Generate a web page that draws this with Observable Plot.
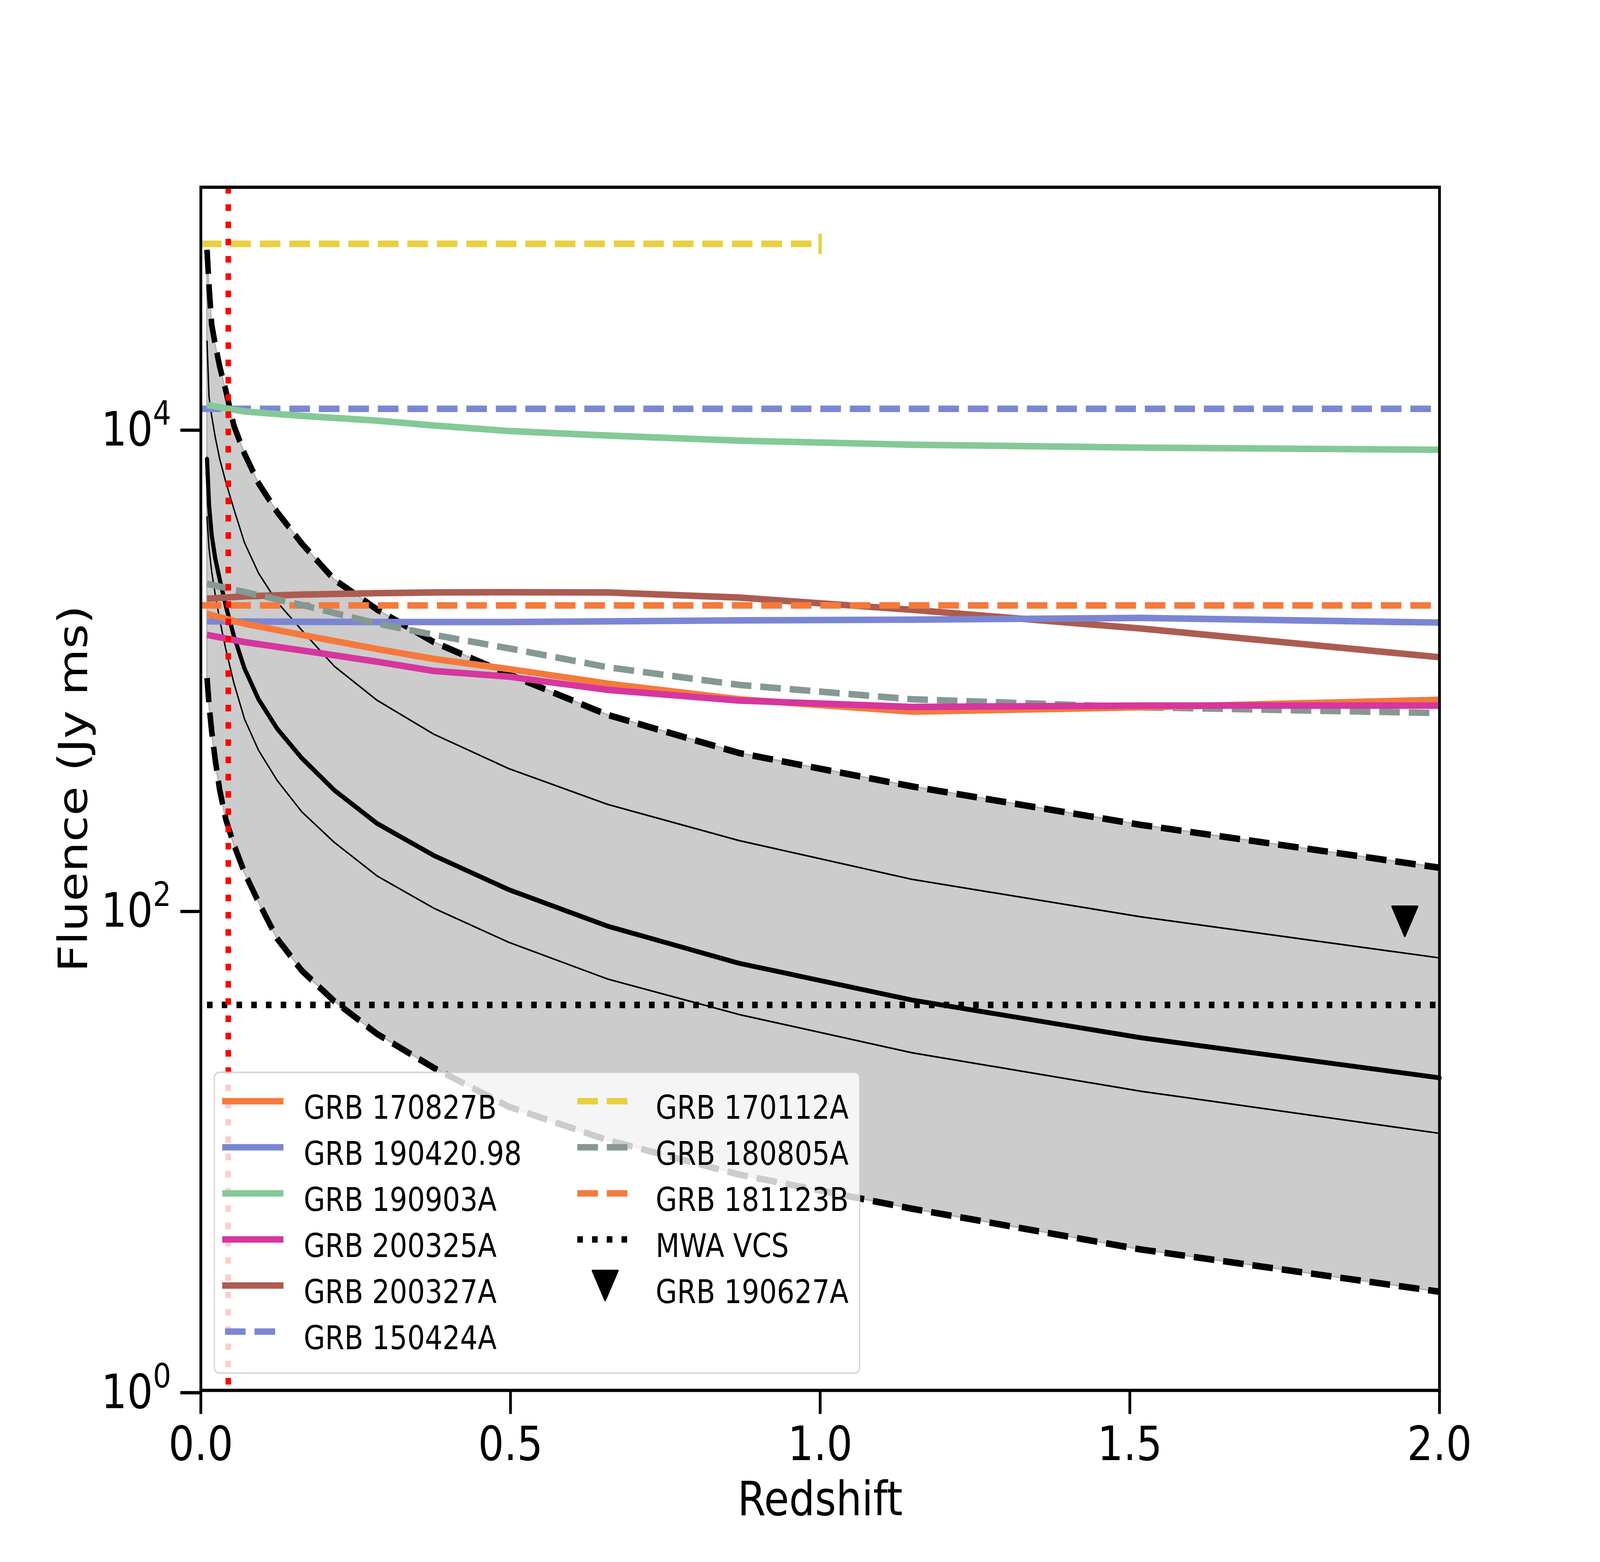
<!DOCTYPE html>
<html>
<head>
<meta charset="utf-8">
<script src="https://cdn.jsdelivr.net/npm/d3@7"></script>
<script src="https://cdn.jsdelivr.net/npm/@observablehq/plot@0.6"></script>
<style>
html, body { margin: 0; padding: 0; background: #ffffff; overflow: hidden; }
#outer { position: relative; width: 4800px; height: 4000px; overflow: hidden; background: #ffffff; }
#wrap { position: absolute; left: 0; top: 0; width: 4800px; height: 4000px; transform-origin: 0 0; }
#wrap svg { position: absolute; left: 0; top: 0; max-width: none !important; }
</style>
</head>
<body>
<div id="outer"><div id="wrap"></div></div>
<script>
// ---------- data ----------
// redshift grid of the model curves
const zModel = [0.01, 0.01322, 0.01747, 0.02309, 0.03052, 0.04035, 0.05333, 0.0705, 0.0932, 0.1232,
                0.1628, 0.2152, 0.2845, 0.3761, 0.4971, 0.6571, 0.8686, 1.148, 1.518, 2.0];
// model fluence (Jy ms): median, inner (thin) and outer (dashed) bounds
const fluenceMedian = [7413, 4786, 3589, 2884, 2344, 1820, 1365, 1000, 744.7, 562.3,
                       424.6, 312.6, 227.0, 167.1, 120.5, 84.9, 59.6, 41.9, 29.2, 19.9];
const fluenceHiInner = [22910, 13490, 11220, 9204, 7413, 5957, 4603, 3334, 2489, 1888,
                        1445, 1023, 737.9, 533.3, 383.7, 272.3, 192.8, 133.0, 92.9, 62.7];
const fluenceLoInner = [4266, 3162, 2529, 2042, 1589, 1202, 871, 616.6, 457.1, 342.8,
                        254.1, 189.7, 137.4, 100.9, 72.8, 51.2, 36.5, 25.3, 17.5, 11.7];
const fluenceHiOuter = [54950, 38900, 26920, 22280, 17950, 14290, 10230, 7816, 5888, 4467,
                        3311, 2344, 1758, 1288, 946.2, 641.2, 445.6, 323.6, 223.9, 148.6];
const fluenceLoOuter = [912, 707.9, 549.5, 419.8, 311.9, 236.0, 185.4, 141.9, 106.9, 75.5,
                        55.6, 41.5, 30.3, 21.9, 15.1, 10.96, 7.89, 5.69, 3.85, 2.57];

// GRB limit curves
const zGRB = [0.01, 0.0705, 0.1628, 0.2845, 0.3761, 0.4971, 0.6571, 0.8686, 1.148, 1.518, 2.0];
const grb170827B = [1687, 1535, 1380, 1205, 1096, 995, 865, 745, 662, 690, 741];
const grb190420 = [1570, 1567, 1563, 1560, 1560, 1560, 1570, 1585, 1596, 1622, 1552];
const grb190903A = [12450, 11700, 11220, 10720, 10230, 9705, 9290, 8851, 8511, 8279, 8110];
const grb200325A = [1380, 1288, 1189, 1067, 977, 925, 815, 736, 692, 701, 701];
const grb200327A = [1950, 1995, 2028, 2056, 2070, 2075, 2070, 1972, 1754, 1466, 1114];
const grb180805A = [2249, 2080, 1837, 1538, 1380, 1213, 1012, 855, 745, 690, 653];

// constant limits: [z start, z end] and fluence
const grb150424A = {z: [0, 2], f: [12000, 12000]};
const grb170112A = {z: [0, 1], f: [58200, 58200]};
const grb181123B = {z: [0, 2], f: [1828, 1828]};
const mwaVCS = {z: [0.01, 2], f: [40, 40]};
const grb190627A = [{z: 1.944, f: 89}];
const zMarker = [0.0443];

// axis ticks
const xTicks = [0, 0.5, 1.0, 1.5, 2.0];
const yTicks = [1, 100, 10000];

// colours
const cOrange = "#f47a3c", cBlue = "#7b86d3", cGreen = "#84c997", cPink = "#d6369e",
      cBrown = "#ac5c50", cYellow = "#e8d040", cGrey = "#869894";

// ---------- helpers ----------
const rows = (z, f) => z.map((d, i) => ({z: d, f: f[i]}));
const band = zModel.map((z, i) => ({z, lo: fluenceLoOuter[i], hi: fluenceHiOuter[i]}));
const LW = 16.7;
const DASH = "61.8,26.7";
const DOT = "16.7,27.5";

const triangleDown = {
  draw(ctx, size) {
    const r = Math.sqrt(size / Math.PI);
    ctx.moveTo(0, r); ctx.lineTo(-r, -r); ctx.lineTo(r, -r); ctx.closePath();
  }
};
const vbar = {
  draw(ctx, size) {
    const r = Math.sqrt(size / Math.PI);
    ctx.moveTo(0, -r); ctx.lineTo(0, r);
  }
};

const solid = (data, color) => Plot.line(data, {x: "z", y: "f", stroke: color, strokeWidth: LW,
  strokeLinecap: "butt", strokeLinejoin: "round"});
const dashed = (data, color) => Plot.line(data, {x: "z", y: "f", stroke: color, strokeWidth: LW,
  strokeDasharray: DASH, strokeLinecap: "butt", strokeLinejoin: "round"});

const plot = Plot.plot({
  width: 4800,
  height: 4000,
  marginLeft: 602,
  marginRight: 482,
  marginTop: 479,
  marginBottom: 440,
  style: {fontFamily: "DejaVu Sans", fontSize: "122px", background: "#ffffff", color: "#000000"},
  x: {domain: [0, 2]},
  y: {type: "log", domain: [1, 1e5]},
  marks: [
    Plot.areaY(band, {x: "z", y1: "lo", y2: "hi", fill: "#cccccc", stroke: "#b3b3b3", strokeWidth: 4}),
    Plot.line(rows(zModel, fluenceHiInner), {x: "z", y: "f", stroke: "#000", strokeWidth: 4.2}),
    Plot.line(rows(zModel, fluenceLoInner), {x: "z", y: "f", stroke: "#000", strokeWidth: 4.2}),
    Plot.line(rows(zModel, fluenceMedian), {x: "z", y: "f", stroke: "#000", strokeWidth: 12.5}),
    dashed(rows(zModel, fluenceHiOuter), "#000"),
    dashed(rows(zModel, fluenceLoOuter), "#000"),
    dashed(rows(grb170112A.z, grb170112A.f), cYellow),
    Plot.dot(rows([grb170112A.z[1]], [grb170112A.f[1]]), {x: "z", y: "f", symbol: vbar, r: 26,
      stroke: cYellow, strokeWidth: 10, fill: "none"}),
    dashed(rows(grb150424A.z, grb150424A.f), cBlue),
    solid(rows(zGRB, grb190903A), cGreen),
    solid(rows(zGRB, grb200327A), cBrown),
    dashed(rows(grb181123B.z, grb181123B.f), cOrange),
    solid(rows(zGRB, grb190420), cBlue),
    dashed(rows(zGRB, grb180805A), cGrey),
    solid(rows(zGRB, grb170827B), cOrange),
    solid(rows(zGRB, grb200325A), cPink),
    Plot.line(rows(mwaVCS.z, mwaVCS.f), {x: "z", y: "f", stroke: "#000", strokeWidth: LW,
      strokeDasharray: DOT, strokeLinecap: "butt"}),
    Plot.dot(grb190627A, {x: "z", y: "f", symbol: triangleDown, r: 38, fill: "#000",
      stroke: "#000", strokeWidth: 5, strokeLinejoin: "round"}),
    Plot.ruleX(zMarker, {stroke: "#ff0000", strokeWidth: LW, strokeDasharray: DOT, strokeLinecap: "butt"}),
    Plot.frame({stroke: "#000", strokeWidth: 8.3}),
    Plot.axisX({ticks: xTicks, tickFormat: d3.format(".1f"), tickSize: 61, tickPadding: 31,
      strokeWidth: 8.3, fontSize: 122, label: null}),
    Plot.axisY({ticks: yTicks, tickFormat: d => String(Math.round(Math.log10(d))), tickSize: 61,
      tickPadding: 28, strokeWidth: 8.3, fontSize: 122, dy: 6, label: null}),
    Plot.text(["Redshift"], {frameAnchor: "bottom", textAnchor: "middle", lineAnchor: "top",
      dy: 233, fontSize: 122, text: d => d}),
    Plot.text(["Fluence (Jy ms)"], {frameAnchor: "left", textAnchor: "middle", lineAnchor: "middle",
      rotate: -90, dx: -380, fontSize: 122, text: d => d})
  ]
});

// superscript exponents on the log-axis labels (10^n)
d3.select(plot).selectAll('g[aria-label="y-axis tick label"] text').each(function () {
  const exp = this.textContent;
  const t = d3.select(this);
  t.text("10");
  t.append("tspan").attr("dy", -53).attr("font-size", 86).text(exp);
});

const outer = document.getElementById("outer");
const wrap = document.getElementById("wrap");
wrap.appendChild(plot);

// ---------- legend (semi-transparent box over the axes) ----------
const legendItems = [
  {label: "GRB 170827B", color: cOrange, kind: "solid", col: 0, row: 0},
  {label: "GRB 190420.98", color: cBlue, kind: "solid", col: 0, row: 1},
  {label: "GRB 190903A", color: cGreen, kind: "solid", col: 0, row: 2},
  {label: "GRB 200325A", color: cPink, kind: "solid", col: 0, row: 3},
  {label: "GRB 200327A", color: cBrown, kind: "solid", col: 0, row: 4},
  {label: "GRB 150424A", color: cBlue, kind: "dash", col: 0, row: 5},
  {label: "GRB 170112A", color: cYellow, kind: "dash", col: 1, row: 0},
  {label: "GRB 180805A", color: cGrey, kind: "dash", col: 1, row: 1},
  {label: "GRB 181123B", color: cOrange, kind: "dash", col: 1, row: 2},
  {label: "MWA VCS", color: "#000", kind: "dot", col: 1, row: 3},
  {label: "GRB 190627A", color: "#000", kind: "tri", col: 1, row: 4}
];
const box = {x: 643, y: 2746, w: 1936, h: 770};
const handleX = [675, 1732], handleLen = 167, textX = [911, 1967];
const rowY = r => 2820 + r * 118;

const leg = d3.create("svg").attr("width", 4800).attr("height", 4000)
  .style("pointer-events", "none");
leg.append("rect").attr("x", box.x).attr("y", box.y).attr("width", box.w).attr("height", box.h)
  .attr("rx", 15).attr("fill", "#ffffff").attr("fill-opacity", 0.8)
  .attr("stroke", "#cccccc").attr("stroke-opacity", 0.8).attr("stroke-width", 4);
for (const it of legendItems) {
  const x0 = handleX[it.col], y = rowY(it.row);
  if (it.kind === "tri") {
    const r = 38, cx = x0 + handleLen / 2;
    leg.append("path").attr("d", `M${cx},${y + r}L${cx - r},${y - r}L${cx + r},${y - r}Z`)
      .attr("fill", "#000").attr("stroke", "#000").attr("stroke-width", 5).attr("stroke-linejoin", "round");
  } else {
    const ln = leg.append("line").attr("x1", x0).attr("x2", x0 + handleLen).attr("y1", y).attr("y2", y)
      .attr("stroke", it.color).attr("stroke-width", LW);
    if (it.kind === "solid") ln.attr("stroke-linecap", "square");
    if (it.kind === "dash") ln.attr("stroke-dasharray", DASH).attr("stroke-linecap", "butt");
    if (it.kind === "dot") ln.attr("stroke-dasharray", DOT).attr("stroke-linecap", "butt");
  }
  leg.append("text").attr("x", textX[it.col]).attr("y", y + 45)
    .attr("font-family", "DejaVu Sans").attr("font-size", 83).attr("fill", "#000").text(it.label);
}
wrap.appendChild(leg.node());

// map the 4800x4000 drawing onto the whole viewport (the browser may cap its width)
function fit() {
  const sx = Math.min(1, window.innerWidth / 4800);
  const sy = Math.min(1, window.innerHeight / 4000);
  wrap.style.transform = (sx < 0.999 || sy < 0.999) ? `scale(${sx}, ${sy})` : "none";
  outer.style.width = (4800 * sx) + "px";
  outer.style.height = (4000 * sy) + "px";
}
fit();
window.addEventListener("resize", fit);
</script>
</body>
</html>
